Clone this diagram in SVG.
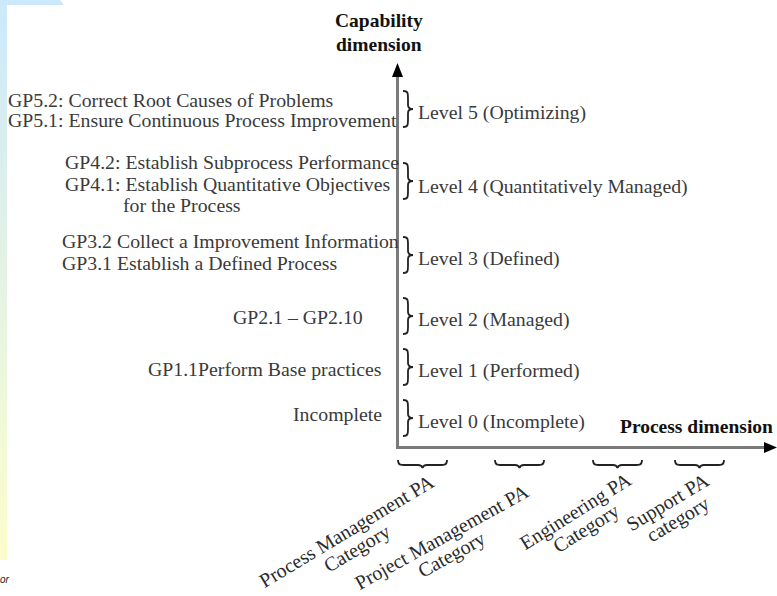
<svg xmlns="http://www.w3.org/2000/svg" width="777" height="596" viewBox="0 0 777 596">
<defs>
<linearGradient id="strip" x1="0" y1="0" x2="0" y2="1">
<stop offset="0" stop-color="#cce9fb"/>
<stop offset="1" stop-color="#fcfdcc"/>
</linearGradient>
<path id="vbrace" d="M0,0 C5,0 5,2 5,8 L5,14 C5,17 7,18 10,18 C7,18 5,19 5,22 L5,28 C5,34 5,36 0,36"/>
<path id="hbrace" d="M0,0 C0,5 2,5 8,5 L20,5 C23,5 24,6 24.5,8 C25,6 26,5 29,5 L41,5 C47,5 49,5 49,0"/>
</defs>
<style>
.t{font-family:"Liberation Serif","Times New Roman",serif;font-size:19.8px;fill:#3a3a3a}
.b{font-family:"Liberation Serif","Times New Roman",serif;font-size:19.5px;font-weight:bold;fill:#111}
.r{font-family:"Liberation Serif","Times New Roman",serif;font-size:20px;fill:#2a2a2a;text-anchor:middle}
.br{fill:none;stroke:#222;stroke-width:1.8}
.axis{stroke:#7a7a7a;stroke-width:3;fill:none}
</style>
<rect width="777" height="596" fill="#ffffff"/>
<g id="decor">
<rect x="0" y="0" width="7" height="560" fill="url(#strip)"/>
<polygon points="0,0 60,0 64,5 0,5" fill="#cce9fb"/>
<text x="0" y="583" font-family="Liberation Sans, Arial, sans-serif" font-size="10" font-style="italic" fill="#222">or</text>
</g>
<g id="connectors">
<line class="axis" x1="397.5" y1="75" x2="397.5" y2="449"/>
<polygon points="397.5,63 392,77 403,77" fill="#000"/>
<line class="axis" x1="396" y1="447.5" x2="766" y2="447.5"/>
<polygon points="777,447.5 764,442 764,453" fill="#000"/>
</g>
<g id="axis-titles">
<text class="b" x="335" y="27">Capability</text>
<text class="b" x="336" y="51">dimension</text>
<text class="b" x="620" y="433">Process dimension</text>
</g>
<g id="level5">
<use href="#vbrace" class="br" x="403" y="91"/>
<text class="t" x="418" y="119">Level 5 (Optimizing)</text>
<text class="t" x="8" y="107">GP5.2: Correct Root Causes of Problems</text>
<text class="t" x="8" y="127">GP5.1: Ensure Continuous Process Improvement</text>
</g>
<g id="level4">
<use href="#vbrace" class="br" x="403" y="163"/>
<text class="t" x="418" y="193">Level 4 (Quantitatively Managed)</text>
<text class="t" x="65" y="169">GP4.2: Establish Subprocess Performance</text>
<text class="t" x="65" y="191">GP4.1: Establish Quantitative Objectives</text>
<text class="t" x="123" y="212">for the Process</text>
</g>
<g id="level3">
<use href="#vbrace" class="br" x="403" y="237"/>
<text class="t" x="418" y="265">Level 3 (Defined)</text>
<text class="t" x="62" y="248">GP3.2 Collect a Improvement Information</text>
<text class="t" x="62" y="270">GP3.1 Establish a Defined Process</text>
</g>
<g id="level2">
<use href="#vbrace" class="br" x="403" y="298"/>
<text class="t" x="418" y="326">Level 2 (Managed)</text>
<text class="t" x="233" y="324">GP2.1 – GP2.10</text>
</g>
<g id="level1">
<use href="#vbrace" class="br" x="403" y="349"/>
<text class="t" x="418" y="377">Level 1 (Performed)</text>
<text class="t" x="148" y="376">GP1.1Perform Base practices</text>
</g>
<g id="level0">
<use href="#vbrace" class="br" x="403" y="400"/>
<text class="t" x="418" y="428">Level 0 (Incomplete)</text>
<text class="t" x="293" y="421">Incomplete</text>
</g>
<g id="cat-process">
<use href="#hbrace" class="br" x="398" y="460"/>
<g transform="translate(350,537) rotate(-31)">
<text class="r" x="0" y="0">Process Management PA</text>
<text class="r" x="0" y="20">Category</text>
</g>
</g>
<g id="cat-project">
<use href="#hbrace" class="br" x="495" y="460"/>
<g transform="translate(445,543) rotate(-29)">
<text class="r" x="0" y="0">Project Management PA</text>
<text class="r" x="0" y="20">Category</text>
</g>
</g>
<g id="cat-engineering">
<use href="#hbrace" class="br" x="593" y="460"/>
<g transform="translate(579,517) rotate(-32)">
<text class="r" x="0" y="0">Engineering PA</text>
<text class="r" x="0" y="20">Category</text>
</g>
</g>
<g id="cat-support">
<use href="#hbrace" class="br" x="675" y="460"/>
<g transform="translate(671,508) rotate(-31)">
<text class="r" x="0" y="0">Support PA</text>
<text class="r" x="0" y="20">category</text>
</g>
</g>
</svg>
